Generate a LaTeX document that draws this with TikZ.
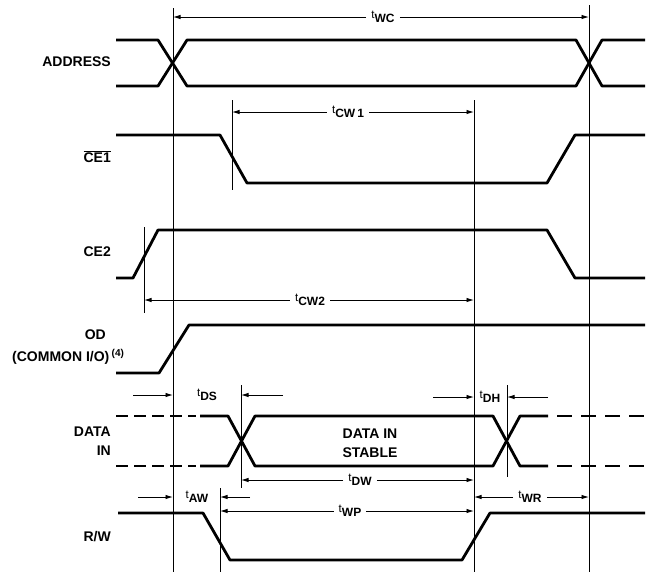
\documentclass[tikz,border=0pt]{standalone}
\usepackage{fontspec}
\setmainfont{Liberation Sans}
\usetikzlibrary{arrows.meta}

% timing parameter: small t with bold subscript
\newcommand{\tpar}[1]{{\fontsize{11.5}{10}\selectfont t}\raisebox{-4pt}{\fontsize{12}{10}\selectfont\bfseries #1}}

\begin{document}
\begin{tikzpicture}[
    x=1pt, y=-1pt,
    >={Latex[length=7.5pt,width=4.5pt]},
    sig/.style={line width=2.8pt, line join=round},
    guide/.style={line width=0.9pt},
    dim/.style={line width=0.9pt},
    lbl/.style={font=\fontsize{14}{19}\selectfont\bfseries, anchor=east, align=right, inner sep=0pt},
    tlbl/.style={fill=white, inner sep=5pt}
]
\useasboundingbox (0,0) rectangle (648,574);

% guide lines
\draw[guide] (173,8) -- (173,572);
\draw[guide] (232,100) -- (232,190);
\draw[guide] (474,100) -- (474,572);
\draw[guide] (589,5) -- (589,572);
\draw[guide] (144,227) -- (144,313);
\draw[guide] (241,385) -- (241,488);
\draw[guide] (507,385) -- (507,477);
\draw[guide] (220,488) -- (220,572);

% signal names
\node[lbl] (address) at (111,62) {ADDRESS};
\node[lbl] (ce1) at (111,157) {$\overline{\mbox{CE1}}$};
\node[lbl] (ce2) at (111,252) {CE2};
\node[lbl] (od) at (106,335) {OD};
\node[lbl, anchor=west] (common) at (12,357) {(COMMON I/O)\,$^{\mbox{\fontsize{10}{10}\selectfont (4)}}$};
\node[lbl] (datain) at (111,441) {DATA\\IN};
\node[lbl] (rw) at (111,537) {R/W};
\node[lbl, anchor=center, align=center] (stable) at (370,443) {DATA IN\\STABLE};

% waveforms
\draw[sig] (116,40) -- (158,40) -- (187,86) -- (576,86) -- (602,40) -- (645,40);
\draw[sig] (116,86) -- (158,86) -- (187,40) -- (576,40) -- (602,86) -- (645,86);

\draw[sig] (116,135) -- (220,135) -- (247,183) -- (547,183) -- (575,135) -- (645,135);

\draw[sig] (116,278) -- (133,278) -- (158,230) -- (547,230) -- (575,278) -- (645,278);

\draw[sig] (116,373) -- (159,373) -- (189,325) -- (645,325);

\draw[sig, dash pattern=on 12pt off 6pt] (116,416) -- (196,416);
\draw[sig, dash pattern=on 12pt off 6pt] (116,466) -- (196,466);
\draw[sig] (200,416) -- (228,416) -- (255,466) -- (493,466) -- (520,416) -- (548,416);
\draw[sig] (200,466) -- (228,466) -- (255,416) -- (493,416) -- (520,466) -- (548,466);
\draw[sig, dash pattern=on 15pt off 9pt] (557,416) -- (645,416);
\draw[sig, dash pattern=on 15pt off 9pt] (557,466) -- (645,466);

\draw[sig] (118,513) -- (203,513) -- (230,560) -- (462,560) -- (490,513) -- (645,513);

% timing parameters
\node[tlbl] (twc) at (383,17) {\tpar{WC}};
\draw[dim,->] (twc) -- (173,17);
\draw[dim,->] (twc) -- (589,17);

\node[tlbl] (tcw1) at (348,112) {\tpar{CW\,1}};
\draw[dim,->] (tcw1) -- (232,112);
\draw[dim,->] (tcw1) -- (474,112);

\node[tlbl] (tcw2) at (310,300) {\tpar{CW2}};
\draw[dim,->] (tcw2) -- (144,300);
\draw[dim,->] (tcw2) -- (474,300);

\node[tlbl] (tds) at (207,395) {\tpar{DS}};
\draw[dim,->] (133,395) -- (173,395);
\draw[dim,->] (283,395) -- (241,395);

\node[tlbl, inner sep=0pt] (tdh) at (490,397) {\tpar{DH}};
\draw[dim,->] (433,397) -- (474,397);
\draw[dim,->] (548,397) -- (507,397);

\node[tlbl] (tdw) at (360,480) {\tpar{DW}};
\draw[dim,->] (tdw) -- (241,480);
\draw[dim,->] (tdw) -- (474,480);

\node[tlbl] (taw) at (197,497) {\tpar{AW}};
\draw[dim,->] (138,497) -- (173,497);
\draw[dim,->] (250,497) -- (220,497);

\node[tlbl] (twp) at (350,511) {\tpar{WP}};
\draw[dim,->] (twp) -- (220,511);
\draw[dim,->] (twp) -- (474,511);

\node[tlbl] (twr) at (530,497) {\tpar{WR}};
\draw[dim,->] (twr) -- (474,497);
\draw[dim,->] (twr) -- (589,497);

\end{tikzpicture}
\end{document}
